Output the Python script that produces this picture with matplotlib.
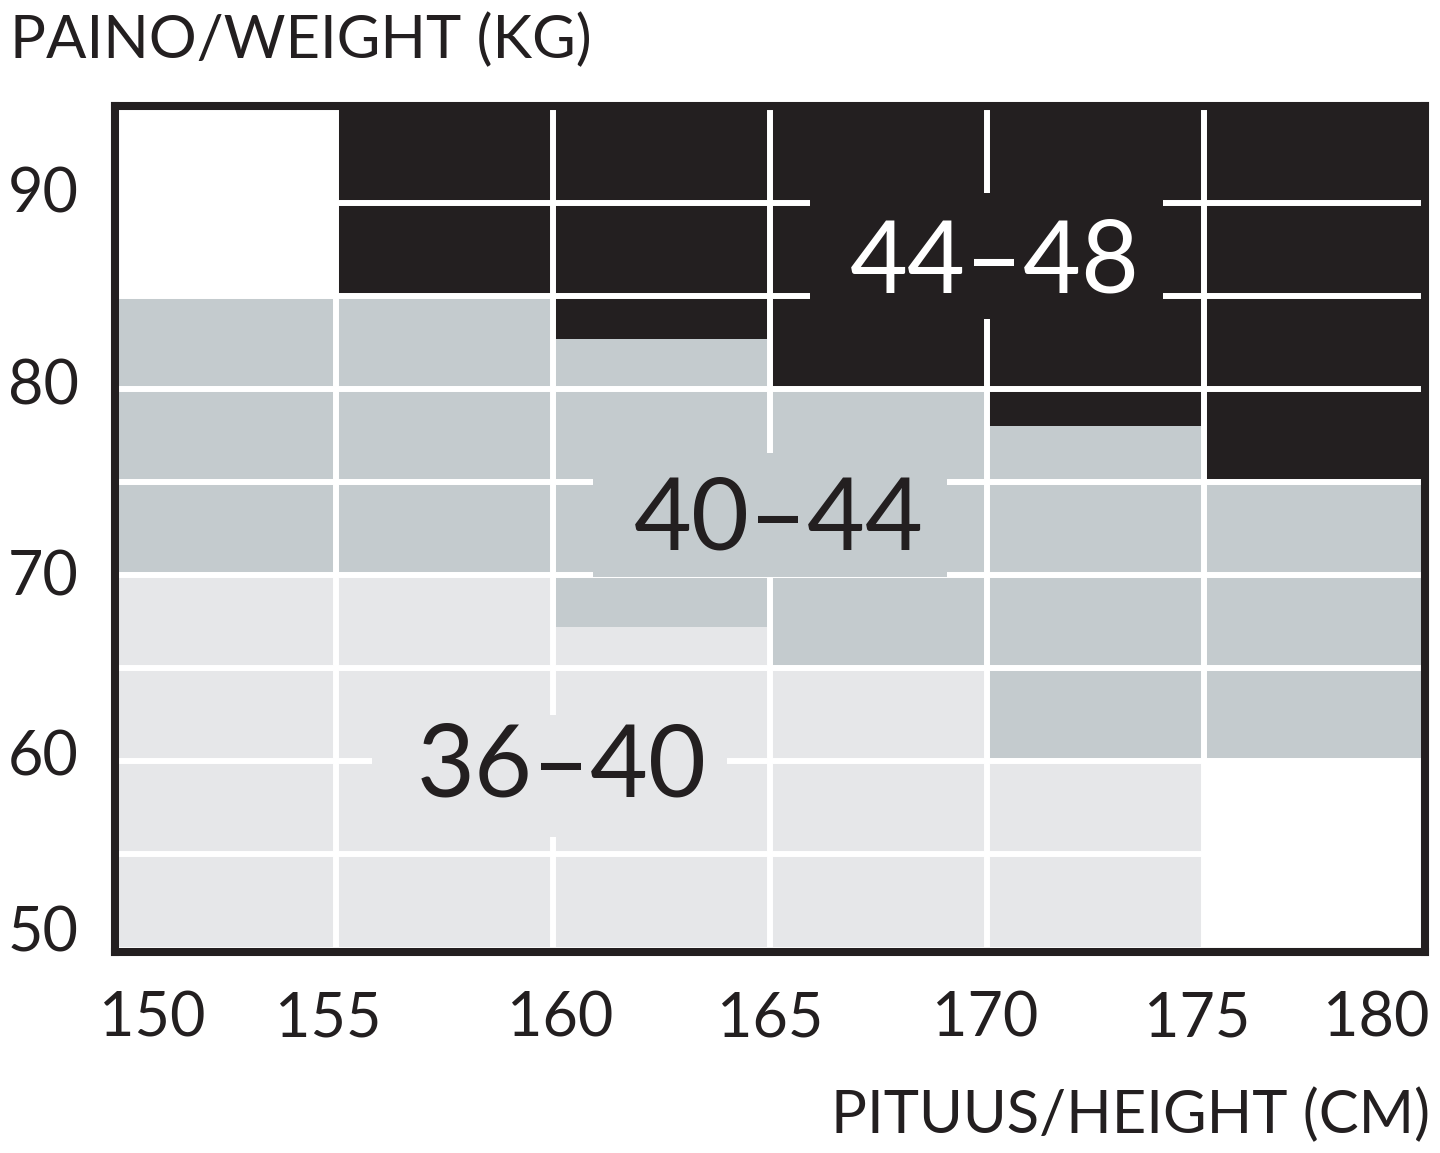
import numpy as np
import matplotlib
matplotlib.use('Agg')
import matplotlib.pyplot as plt
from matplotlib.patches import Rectangle

plt.rcParams['font.family'] = ['Lato', 'DejaVu Sans']

# height columns (cm), left edges, width 5
col_left = [150, 155, 160, 165, 170, 175]
col_width = 5
# size bands: weight limits (kg) per column
s36_low = [50, 50, 50, 50, 50, 60]          # last column empty (white)
s40_low = [70, 70, 67.2, 65, 60, 60]
s44_low = [85, 85, 82.7, 80, 78, 75]
s44_high = [85, 95, 95, 95, 95, 95]         # first column empty (white)

xtick_pos = [150.77, 154.82, 160.16, 165.0, 169.95, 174.84, 178.96]
xtick_lab = ['150', '155', '160', '165', '170', '175', '180']
ytick_pos = [90.7, 80.38, 70.16, 60.48, 51.02]
ytick_lab = ['90', '80', '70', '60', '50']

# size labels: text, centre, gap box (x0, x1, y0, y1), colours
labels = [
    ('44–48', 170.18, 86.7, (165.92, 174.06, 83.76, 90.54), 'white', '#231f20'),
    ('40–44', 165.2, 72.9, (160.92, 169.08, 69.9, 76.56), '#231f20', '#c4cbce'),
    ('36–40', 160.2, 59.6, (155.83, 164.01, 55.91, 62.47), '#231f20', '#e6e7e9'),
]

dark = '#231f20'
mid = '#c4cbce'
light = '#e6e7e9'

fig = plt.figure(figsize=(14.4, 11.53), dpi=100)
# axes edges on the centre of the black frame
ax = fig.add_axes([115/1440, 1-951.5/1153, 1310/1440, 845.5/1153])

px_x = 1302/30.0   # pixels per cm
px_y = 837/45.0    # pixels per kg
ax.set_xlim(150 - 4/px_x, 180 + 4/px_x)
ax.set_ylim(50 - 4.5/px_y, 95 + 4/px_y)

lo = np.array(s36_low)
h36 = np.array(s40_low) - lo
h40 = np.array(s44_low) - np.array(s40_low)
h44 = np.array(s44_high) - np.array(s44_low)
ax.bar(col_left, h36, bottom=lo, width=col_width, align='edge', color=light, linewidth=0, zorder=1)
ax.bar(col_left, h40, bottom=s40_low, width=col_width, align='edge', color=mid, linewidth=0, zorder=1)
ax.bar(col_left, h44, bottom=s44_low, width=col_width, align='edge', color=dark, linewidth=0, zorder=1)

# white grid
for y in range(55, 95, 5):
    ax.axhline(y, color='white', lw=4.3, zorder=2)
for x in range(155, 180, 5):
    ax.axvline(x, color='white', lw=4.3, zorder=2)

for txt, tx, ty, (x0, x1, y0, y1), tc, bg in labels:
    ax.add_patch(Rectangle((x0, y0), x1 - x0, y1 - y0, facecolor=bg, edgecolor='none', zorder=3))
    ax.text(tx, ty, txt, color=tc, fontsize=72, ha='center', va='center', zorder=4)

for s in ax.spines.values():
    s.set_linewidth(5.8)
    s.set_color(dark)
    s.set_zorder(5)

ax.set_xticks(xtick_pos)
ax.set_xticklabels(xtick_lab)
ax.set_yticks(ytick_pos)
ax.set_yticklabels(ytick_lab)
ax.tick_params(axis='both', length=0, labelsize=44, labelcolor=dark)
ax.tick_params(axis='x', pad=28)
ax.tick_params(axis='y', pad=26)

fig.text(10/1440, 1-58/1153, 'PAINO/WEIGHT (KG)', fontsize=43, color=dark, ha='left', va='baseline')
fig.text(1430/1440, 1-1133/1153, 'PITUUS/HEIGHT (CM)', fontsize=43, color=dark, ha='right', va='baseline')

fig.savefig('out.png', dpi=100, facecolor='white')
